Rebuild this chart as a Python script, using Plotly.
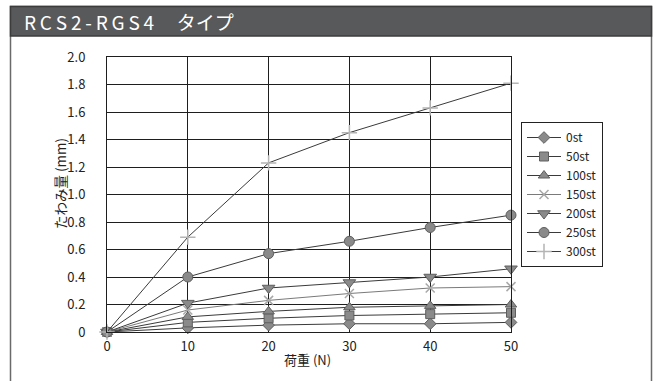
import plotly.graph_objects as go

# Load (N) vs deflection (mm) for each stroke length
loads = [0, 10, 20, 30, 40, 50]
series_names = ["0st", "50st", "100st", "150st", "200st", "250st", "300st"]
defl_0st = [0, 0.03, 0.05, 0.06, 0.06, 0.07]
defl_50st = [0, 0.07, 0.10, 0.12, 0.13, 0.14]
defl_100st = [0, 0.11, 0.15, 0.18, 0.19, 0.20]
defl_150st = [0, 0.16, 0.23, 0.28, 0.32, 0.33]
defl_200st = [0, 0.21, 0.32, 0.36, 0.40, 0.46]
defl_250st = [0, 0.40, 0.57, 0.66, 0.76, 0.85]
defl_300st = [0, 0.69, 1.23, 1.45, 1.63, 1.81]
y_tickvals = [0, 0.2, 0.4, 0.6, 0.8, 1.0, 1.2, 1.4, 1.6, 1.8, 2.0]
y_ticktext = ["0", "0.2", "0.4", "0.6", "0.8", "1.0", "1.2", "1.4", "1.6", "1.8", "2.0"]
x_tickvals = [0, 10, 20, 30, 40, 50]

W, H = 654, 381
L, R, T, B = 107, 511, 57, 332  # plot area in pixels
FONT = "Noto Sans CJK JP"
TS = "\u2009"  # thin space for the spaced-out heading

def px(x):
    return (x - L) / (R - L)

def py(y):
    return (B - y) / (B - T)

styles = [
    dict(symbol="diamond", size=9, color="#8a8a8a", line=dict(color="#5e5e5e", width=1), lc="#3a3a3a"),
    dict(symbol="square", size=9, color="#8a8a8a", line=dict(color="#5e5e5e", width=1), lc="#3a3a3a"),
    dict(symbol="triangle-up", size=10, color="#8a8a8a", line=dict(color="#5e5e5e", width=1), lc="#3a3a3a"),
    dict(symbol="x-thin", size=9, color="#a8a8a8", line=dict(color="#a8a8a8", width=1.5), lc="#7a7a7a"),
    dict(symbol="triangle-down", size=11, color="#8a8a8a", line=dict(color="#5e5e5e", width=1), lc="#3a3a3a"),
    dict(symbol="circle", size=10, color="#8a8a8a", line=dict(color="#5e5e5e", width=1), lc="#3a3a3a"),
    dict(symbol="cross-thin", size=11, color="#b4b4b4", line=dict(color="#b4b4b4", width=1.5), lc="#3a3a3a"),
]
data = [defl_0st, defl_50st, defl_100st, defl_150st, defl_200st, defl_250st, defl_300st]

fig = go.Figure()
for name, ys, st in zip(series_names, data, styles):
    fig.add_trace(go.Scatter(
        x=loads, y=ys, name=name, mode="lines+markers",
        line=dict(color=st["lc"], width=1),
        marker=dict(symbol=st["symbol"], size=st["size"], color=st["color"], line=st["line"]),
        cliponaxis=False,
    ))

shapes = [
    # outer frame
    dict(type="rect", xref="paper", yref="paper", x0=px(10.5), x1=px(651.5), y0=py(400), y1=py(6.5),
         line=dict(color="#6a6a6a", width=1.5), fillcolor="rgba(0,0,0,0)", layer="below"),
    # title bar
    dict(type="rect", xref="paper", yref="paper", x0=px(10.5), x1=px(651.5), y0=py(36), y1=py(6.5),
         line=dict(color="#3c3c3c", width=1.5), fillcolor="#58595b", layer="below"),
]

heading = TS.join("RCS2-RGS4") + "\u3000" + TS + "タイプ"

fig.update_layout(
    width=W, height=H,
    margin=dict(l=L, r=W - R, t=T, b=H - B, pad=0),
    paper_bgcolor="white", plot_bgcolor="white",
    font=dict(family=FONT, color="#222222", size=13),
    shapes=shapes,
    showlegend=True,
    legend=dict(
        x=px(521), y=py(122), xanchor="left", yanchor="top",
        bordercolor="#222222", borderwidth=1, bgcolor="white",
        font=dict(family=FONT, size=12, color="#222222"),
        tracegroupgap=0, itemwidth=34,
    ),
    annotations=[
        dict(text=heading, xref="paper", yref="paper",
             x=px(22), y=py(21.5), xanchor="left", yanchor="middle", showarrow=False,
             font=dict(family=FONT, size=19, color="white")),
        dict(text="たわみ量 (mm)", xref="paper", yref="paper", textangle=-90,
             x=px(60), y=py(184), xanchor="center", yanchor="middle", showarrow=False,
             font=dict(family=FONT, size=13.5, color="#222222")),
        dict(text="荷重 (N)", xref="paper", yref="paper",
             x=px(307), y=py(359), xanchor="center", yanchor="middle", showarrow=False,
             font=dict(family=FONT, size=13, color="#222222")),
    ],
    xaxis=dict(
        range=[0, 50], tickvals=x_tickvals, showgrid=True, gridcolor="#1e1e1e", gridwidth=1,
        showline=True, linecolor="#1e1e1e", linewidth=1, mirror=True, zeroline=False,
        ticks="", ticklabelstandoff=2, tickfont=dict(size=13),
    ),
    yaxis=dict(
        range=[0, 2.0], tickvals=y_tickvals, ticktext=y_ticktext, showgrid=True,
        gridcolor="#1e1e1e", gridwidth=1, showline=True, linecolor="#1e1e1e", linewidth=1,
        mirror=True, zeroline=False, ticks="", ticklabelstandoff=18, tickfont=dict(size=13),
    ),
)

fig.write_html("out.html")
